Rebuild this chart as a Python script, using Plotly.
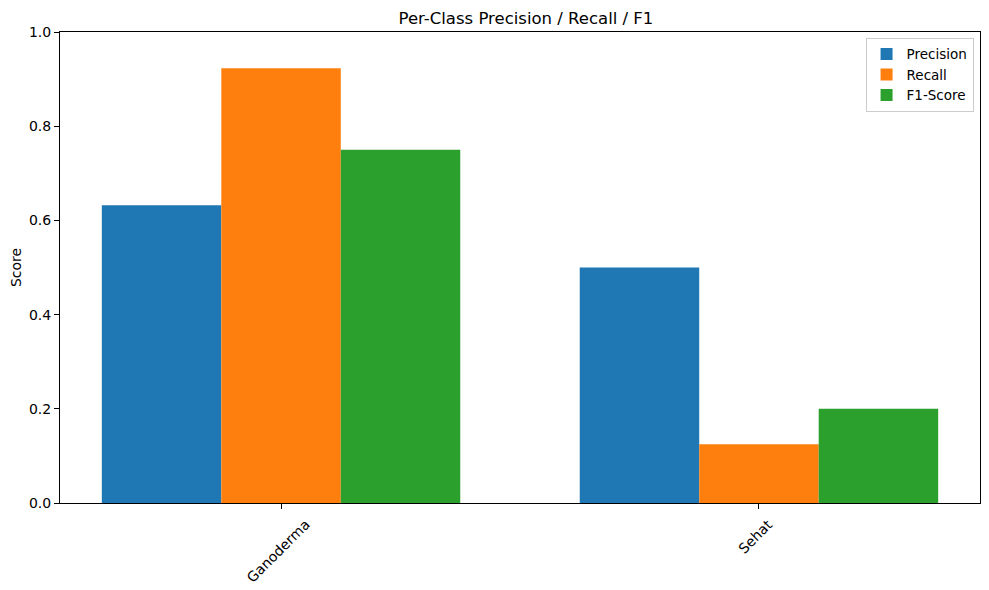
import plotly.graph_objects as go

# Per-class metrics
classes = ["Ganoderma", "Sehat"]
precision = [0.632, 0.5]
recall = [0.923, 0.125]
f1_score = [0.75, 0.2]

series = [
    ("Precision", precision, "#1f77b4", -0.375),
    ("Recall", recall, "#ff7f0e", -0.125),
    ("F1-Score", f1_score, "#2ca02c", 0.125),
]

x_pos = list(range(len(classes)))

fig = go.Figure()
for name, vals, color, off in series:
    fig.add_trace(go.Bar(
        x=x_pos, y=vals, name=name, width=0.25, offset=off,
        marker=dict(color=color, line=dict(width=0)),
    ))

# x labels rotated 45 deg, centred under the tick like matplotlib
for i, lab in zip(x_pos, classes):
    fig.add_annotation(x=i, y=-0.022, xref="x", yref="paper", text=lab,
                       textangle=-45, showarrow=False, xanchor="center",
                       yanchor="top", xshift=-3, font=dict(size=14))

# page body has an 8px margin, so the figure is a bit smaller
fig.update_layout(
    width=981, height=582,
    margin=dict(l=52, r=9, t=24, b=87),
    plot_bgcolor="white", paper_bgcolor="white",
    font=dict(family="DejaVu Sans", size=14, color="black"),
    title=dict(text="Per-Class Precision / Recall / F1", x=0.528, xanchor="center",
               y=0.982, yanchor="middle", font=dict(size=16.5)),
    barmode="overlay",
    showlegend=True,
    legend=dict(x=0.993, y=0.988, xanchor="right", yanchor="top",
                bordercolor="#cccccc", borderwidth=1, bgcolor="white",
                font=dict(size=13.5), tracegroupgap=0),
)

fig.update_xaxes(
    range=[-0.4625, 1.4625], tickvals=x_pos, ticktext=["", ""], automargin=False,
    showline=True, linecolor="black", linewidth=1, mirror=True,
    ticks="outside", ticklen=5, tickcolor="black", showgrid=False, zeroline=False,
)
fig.update_yaxes(
    range=[0, 1], tickvals=[0, 0.2, 0.4, 0.6, 0.8, 1.0],
    ticktext=["0.0", "0.2", "0.4", "0.6", "0.8", "1.0"], automargin=False,
    title=dict(text="Score", standoff=6, font=dict(size=14)),
    showline=True, linecolor="black", linewidth=1, mirror=True,
    ticks="outside", ticklen=5, tickcolor="black", showgrid=False, zeroline=False,
)

fig.write_html("out.html")
